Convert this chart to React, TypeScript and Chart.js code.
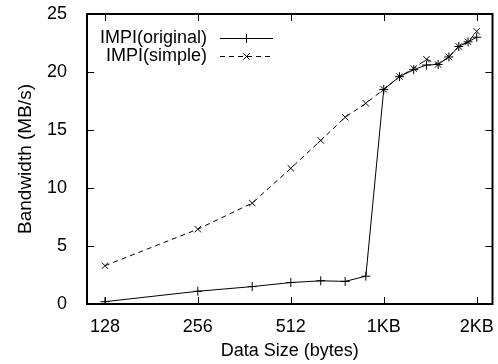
import React, { useEffect, useRef } from "react";
import { Chart, registerables } from "chart.js";

Chart.register(...registerables);

// ---- data ----
const sizes = [128, 256, 384, 512, 640, 768, 896, 1024, 1152, 1280, 1408, 1536, 1664, 1792, 1920, 2048];
const originalBw = [0.2, 1.1, 1.5, 1.85, 2.0, 1.95, 2.4, 18.5, 19.6, 20.2, 20.6, 20.65, 21.3, 22.2, 22.6, 23.0];
const simpleBw = [3.3, 6.45, 8.7, 11.7, 14.1, 16.1, 17.3, 18.5, 19.6, 20.3, 21.1, 20.65, 21.3, 22.2, 22.6, 23.5];
const seriesNames = ["IMPI(original)", "IMPI(simple)"];
const xTickValues = [128, 256, 512, 1024, 2048];
const xTickLabels = ["128", "256", "512", "1KB", "2KB"];
const yTickValues = [0, 5, 10, 15, 20, 25];
const xTitle = "Data Size (bytes)";
const yTitle = "Bandwidth (MB/s)";

const FONT = "'Liberation Sans', Arial, Helvetica, sans-serif";

function drawMarker(ctx: CanvasRenderingContext2D, style: string, x: number, y: number, r: number) {
  ctx.beginPath();
  if (style === "cross") {
    ctx.moveTo(x - r, y);
    ctx.lineTo(x + r, y);
    ctx.moveTo(x, y - r);
    ctx.lineTo(x, y + r);
  } else {
    const d = r * Math.SQRT1_2;
    ctx.moveTo(x - d, y - d);
    ctx.lineTo(x + d, y + d);
    ctx.moveTo(x - d, y + d);
    ctx.lineTo(x + d, y - d);
  }
  ctx.stroke();
}

const framePlugin = {
  id: "gnuFrame",
  afterDatasetsDraw(chart: any) {
    const { ctx, chartArea, scales } = chart;
    const { left, right, top, bottom } = chartArea;
    const tl = 7;
    ctx.save();
    ctx.strokeStyle = "#000";
    ctx.lineWidth = 1;
    xTickValues.forEach((v) => {
      const px = Math.round(scales.x.getPixelForValue(v)) + 0.5;
      ctx.beginPath();
      ctx.moveTo(px, bottom);
      ctx.lineTo(px, bottom - tl);
      ctx.moveTo(px, top);
      ctx.lineTo(px, top + tl);
      ctx.stroke();
    });
    yTickValues.forEach((v) => {
      const py = Math.round(scales.y.getPixelForValue(v)) + 0.5;
      ctx.beginPath();
      ctx.moveTo(left, py);
      ctx.lineTo(left + tl, py);
      ctx.moveTo(right, py);
      ctx.lineTo(right - tl, py);
      ctx.stroke();
    });
    ctx.lineWidth = 2;
    ctx.strokeRect(left, top, right - left, bottom - top);

    // legend
    ctx.font = `18px ${FONT}`;
    ctx.fillStyle = "#000";
    ctx.textAlign = "right";
    ctx.textBaseline = "middle";
    const rows = [38, 56];
    chart.data.datasets.forEach((ds: any, i: number) => {
      const y = rows[i];
      ctx.fillText(ds.label, 207, y);
      ctx.lineWidth = 1;
      ctx.setLineDash(ds.borderDash || []);
      ctx.beginPath();
      ctx.moveTo(220, y + 0.5);
      ctx.lineTo(273, y + 0.5);
      ctx.stroke();
      ctx.setLineDash([]);
      drawMarker(ctx, ds.pointStyle, 246.5, y + 0.5, 4.5);
    });
    ctx.restore();
  },
};

const hiddenTicks = (len: number) => ({
  display: true,
  drawOnChartArea: false,
  drawTicks: true,
  tickLength: len,
  tickColor: "rgba(0,0,0,0)",
  color: "rgba(0,0,0,0)",
});

export default function App() {
  const ref = useRef<HTMLCanvasElement | null>(null);
  useEffect(() => {
    if (!ref.current) return;
    const chart = new Chart(ref.current, {
      type: "line",
      data: {
        datasets: [
          {
            label: seriesNames[0],
            data: sizes.map((s, i) => ({ x: s, y: originalBw[i] })),
            borderColor: "#000",
            borderWidth: 1,
            pointStyle: "cross",
            pointRadius: 4.5,
            pointBorderColor: "#000",
            pointBorderWidth: 1,
            fill: false,
            tension: 0,
          },
          {
            label: seriesNames[1],
            data: sizes.map((s, i) => ({ x: s, y: simpleBw[i] })),
            borderColor: "#000",
            borderWidth: 1,
            borderDash: [5, 4],
            pointStyle: "crossRot",
            pointRadius: 4.5,
            pointBorderColor: "#000",
            pointBorderWidth: 1,
            fill: false,
            tension: 0,
          },
        ],
      },
      options: {
        responsive: false,
        animation: false,
        devicePixelRatio: 1,
        layout: { padding: { top: 14, right: 1, left: 0, bottom: 0 } },
        plugins: { legend: { display: false }, tooltip: { enabled: false } },
        scales: {
          x: {
            type: "logarithmic",
            min: 112,
            max: 2304,
            bounds: "data",
            afterBuildTicks: (scale: any) => {
              scale.ticks = xTickValues.map((v) => ({ value: v }));
            },
            afterFit: (scale: any) => {
              scale.height = 60;
              scale.paddingLeft = 0;
              scale.paddingRight = 0;
            },
            grid: hiddenTicks(12),
            border: { display: false },
            ticks: {
              autoSkip: false,
              maxRotation: 0,
              padding: 0,
              color: "#000",
              font: { family: FONT, size: 18 },
              callback: (v: any) => {
                const idx = xTickValues.indexOf(Number(v));
                return idx >= 0 ? xTickLabels[idx] : "";
              },
            },
            title: {
              display: true,
              text: xTitle,
              color: "#000",
              font: { family: FONT, size: 18 },
              padding: { top: 0, bottom: 2 },
            },
          },
          y: {
            type: "linear",
            min: 0,
            max: 25,
            afterBuildTicks: (scale: any) => {
              scale.ticks = yTickValues.map((v) => ({ value: v }));
            },
            afterFit: (scale: any) => {
              scale.width = 87;
              scale.paddingTop = 0;
              scale.paddingBottom = 0;
            },
            grid: hiddenTicks(20),
            border: { display: false },
            ticks: {
              padding: 0,
              color: "#000",
              font: { family: FONT, size: 18 },
            },
            title: {
              display: true,
              text: yTitle,
              color: "#000",
              font: { family: FONT, size: 19 },
              padding: { top: 14, bottom: 0 },
            },
          },
        },
      },
      plugins: [framePlugin],
    });
    return () => chart.destroy();
  }, []);
  return (
    <div style={{ position: "absolute", left: 0, top: 0, width: 498, height: 364 }}>
      <canvas ref={ref} width={498} height={364} />
    </div>
  );
}
